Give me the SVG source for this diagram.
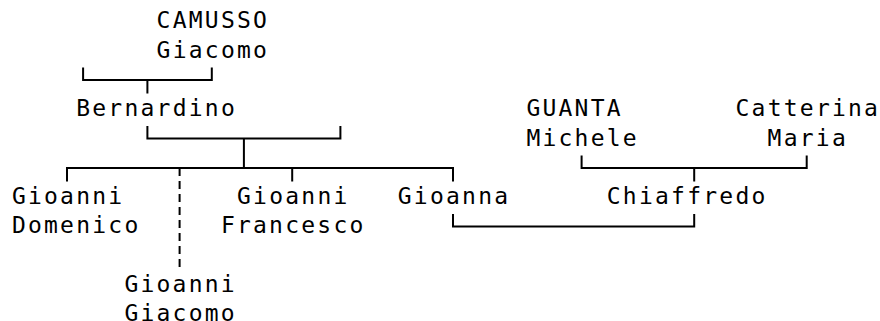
<svg xmlns="http://www.w3.org/2000/svg" width="880" height="321" viewBox="0 0 880 321">
<style>
text{font-family:"DejaVu Sans Mono","Liberation Mono",monospace;font-size:23px;letter-spacing:2.23px;fill:#000}
.c{stroke:#000;stroke-width:2;fill:none;stroke-linecap:butt}
.d{stroke-dasharray:8 5}
</style>
<rect width="880" height="321" fill="#fff"/>
<g id="connectors" class="c">
<path class="c" d="M83.1,67.5V80H211.8V67.5M147.4,80V93.5"/>
<path class="c" d="M147.4,126V138.6H340.4V126M243.9,138.6V167.9"/>
<path class="c" d="M67,181.4V167.9H453V181.4M292.2,167.9V181.4"/>
<path class="c d" d="M179.6,167.9V268"/>
<path class="c" d="M581.6,155.4V167.9H806.7V155.4M694.2,167.9V181.4"/>
<path class="c" d="M453,214V226.5H694.2V214"/>
</g>
<g id="camusso-giacomo"><text x="156.6" y="28.3">CAMUSSO</text><text x="156.6" y="57.6">Giacomo</text></g>
<g id="bernardino"><text x="76.2" y="116.2">Bernardino</text></g>
<g id="guanta-michele"><text x="526.4" y="116.2">GUANTA</text><text x="526.4" y="145.5">Michele</text></g>
<g id="catterina-maria"><text x="735.5" y="116.2">Catterina</text><text x="767.6" y="145.5">Maria</text></g>
<g id="gioanni-domenico"><text x="11.9" y="204.1">Gioanni</text><text x="11.9" y="233.4">Domenico</text></g>
<g id="gioanni-francesco"><text x="237" y="204.1">Gioanni</text><text x="220.9" y="233.4">Francesco</text></g>
<g id="gioanna"><text x="397.8" y="204.1">Gioanna</text></g>
<g id="chiaffredo"><text x="606.8" y="204.1">Chiaffredo</text></g>
<g id="gioanni-giacomo"><text x="124.4" y="292">Gioanni</text><text x="124.4" y="321.3">Giacomo</text></g>
</svg>
